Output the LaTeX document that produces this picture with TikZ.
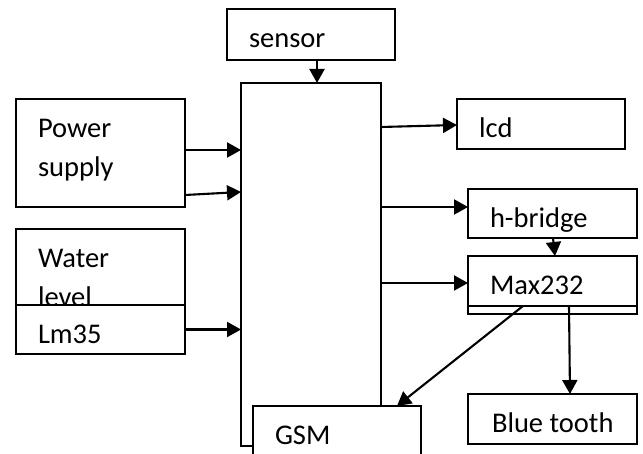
\documentclass[tikz,border=0pt]{standalone}
\usepackage{fontspec}
\setmainfont{Carlito}
\usetikzlibrary{arrows.meta}

\newcommand{\blkfont}{\fontsize{28.5}{39}\selectfont}

\tikzset{
  blk/.style 2 args={draw, line width=2.1pt, fill=white, rectangle,
    anchor=north west, inner sep=0pt, outer sep=0pt,
    minimum width=#1, minimum height=#2},
  lbl/.style={draw=none, fill=none, anchor=base west, inner sep=0pt,
    minimum width=0pt, minimum height=0pt, font=\blkfont},
  % one line of text, clipped to the box
  txt/.style={path picture={
    \node[lbl] at ([xshift=22pt,yshift=-38.5pt]path picture bounding box.north west) {#1};}},
  % two lines of text, clipped to the box
  txttwo/.style 2 args={path picture={
    \node[lbl] at ([xshift=22pt,yshift=-38.5pt]path picture bounding box.north west) {#1};
    \node[lbl] at ([xshift=22pt,yshift=-77.5pt]path picture bounding box.north west) {#2};}},
  conn/.style={line width=2.1pt, -{Triangle[length=14pt,width=15pt]}},
}

\begin{document}
\begin{tikzpicture}[x=1pt,y=-1pt]
  \clip (0,0) rectangle (643,454);
  \fill[white] (0,0) rectangle (643,454);

  % controller block and its neighbours
  \node[blk={140pt}{363pt}] (main) at (241,83) {};
  \node[blk={168pt}{51pt}, txt=sensor] (sensor) at (227,9) {};
  \node[blk={168pt}{70pt}, txt=GSM] (gsm) at (253,406) {};

  % inputs on the left
  \node[blk={169pt}{108pt}, txttwo={Power}{supply}] (power) at (16,99) {};
  \node[blk={169pt}{100pt}, txttwo={Water}{level}] (water) at (16,229) {};
  \node[blk={169pt}{49pt}, txt=Lm35] (lm) at (16,305) {};

  % outputs on the right
  \node[blk={168pt}{50pt}, txt=lcd] (lcd) at (457,99) {};
  \node[blk={169pt}{49pt}, txt=h-bridge] (hb) at (468,189) {};
  \node[blk={169pt}{58pt}] (maxouter) at (468,256) {};
  \node[blk={169pt}{50pt}, txt=Max232] (max) at (468,256) {};
  \node[blk={169pt}{50pt}, path picture={
    \node[lbl] at ([xshift=24pt,yshift=-38.5pt]path picture bounding box.north west) {Blue tooth};}]
    (blue) at (468,394) {};

  % connectors
  \draw[conn] ([xshift=6pt]sensor.south) -- ([xshift=6pt]main.north);
  \draw[conn] ([yshift=3pt]power.east) -- ([yshift=3pt]power.east -| main.west);
  \draw[conn] ([yshift=-42pt]power.east) -- ([yshift=-39pt]power.east -| main.west);
  \draw[conn] (lm.east) -- (lm.east -| main.west);
  \draw[conn] ([yshift=-3pt]lcd.west -| main.east) -- ([yshift=-1pt]lcd.west);
  \draw[conn] ([yshift=6.5pt]hb.west -| main.east) -- ([yshift=6.5pt]hb.west);
  \draw[conn] ([yshift=-2pt]max.west -| main.east) -- ([yshift=-2pt]max.west);
  \draw[conn] ([xshift=0.5pt]hb.south) -- ([xshift=2.5pt]max.north);
  \draw[conn] ([xshift=-29.5pt]max.south) -- ([xshift=60pt]gsm.north);
  \draw[conn] ([xshift=16.5pt]max.south) -- ([xshift=17.5pt]blue.north);
\end{tikzpicture}
\end{document}
